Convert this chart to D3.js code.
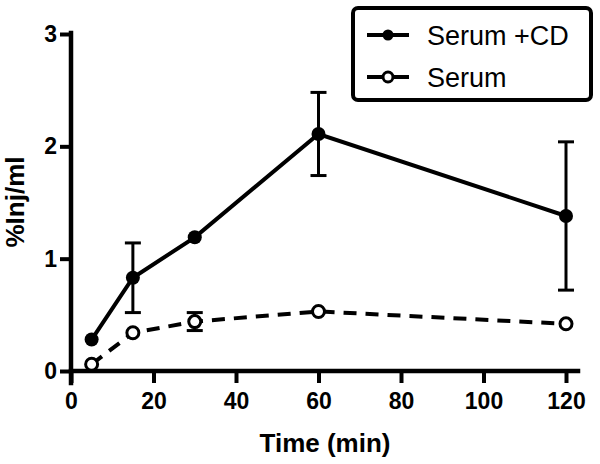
<!DOCTYPE html>
<html>
<head>
<meta charset="utf-8">
<script src="https://cdn.jsdelivr.net/npm/d3@7"></script>
<style>
  html, body { margin: 0; padding: 0; background: #fff; }
  svg { display: block; }
  text { font-family: "Liberation Sans", Arial, Helvetica, sans-serif; }
</style>
</head>
<body>
<svg id="chart" width="600" height="464"></svg>
<script>
// ---- data ----
const times = [5, 15, 30, 60, 120];
const serumCD = [0.28, 0.83, 1.19, 2.11, 1.38];
const serumCDErr = [0.0, 0.31, 0.0, 0.37, 0.66];
const serum = [0.06, 0.34, 0.44, 0.53, 0.42];
const serumErr = [0.0, 0.0, 0.08, 0.0, 0.0];
const xTicks = [0, 20, 40, 60, 80, 100, 120];
const yTicks = [0, 1, 2, 3];
const seriesNames = ["Serum +CD", "Serum"];

const svg = d3.select("#chart");
const x = d3.scaleLinear().domain([0, 120]).range([71, 566]);
const y = d3.scaleLinear().domain([0, 3]).range([371, 34]);

// axes
const xAxis = svg.append("g").attr("transform", "translate(0,371)")
  .call(d3.axisBottom(x).tickValues(xTicks).tickFormat(d3.format("d"))
    .tickSize(12).tickPadding(10).tickSizeOuter(0));
xAxis.select(".domain").attr("d", `M${x(0)},0H578`);
const yAxis = svg.append("g").attr("transform", "translate(71,0)")
  .call(d3.axisLeft(y).tickValues(yTicks).tickFormat(d3.format("d"))
    .tickSize(11).tickPadding(3).tickSizeOuter(0));
yAxis.select(".domain").attr("d", `M0,${y(0) + 12}V33`);

[xAxis, yAxis].forEach(a => {
  a.selectAll(".domain").attr("stroke", "#000").attr("stroke-width", 4.5).attr("stroke-linecap", "square");
  a.selectAll(".tick line").attr("stroke", "#000").attr("stroke-width", 4);
  a.selectAll(".tick text").attr("fill", "#000").attr("font-size", 23).attr("font-weight", "bold")
    .attr("font-family", "'Liberation Sans', Arial, sans-serif");
});

// axis titles
svg.append("text").attr("x", 325).attr("y", 452).attr("text-anchor", "middle")
  .attr("font-size", 26).attr("font-weight", "bold").text("Time (min)");
svg.append("text").attr("transform", "translate(24,202) rotate(-90)").attr("text-anchor", "middle")
  .attr("font-size", 26).attr("font-weight", "bold").text("%Inj/ml");

const line = d3.line().x(d => x(d[0])).y(d => y(d[1]));
const cap = 8;

function errorBars(vals, errs) {
  const g = svg.append("g").attr("stroke", "#000").attr("stroke-width", 3).attr("fill", "none");
  times.forEach((t, i) => {
    if (errs[i] <= 0) return;
    const cx = x(t), top = y(vals[i] + errs[i]), bot = y(vals[i] - errs[i]);
    g.append("line").attr("x1", cx).attr("x2", cx).attr("y1", top).attr("y2", bot);
    g.append("line").attr("x1", cx - cap).attr("x2", cx + cap).attr("y1", top).attr("y2", top);
    g.append("line").attr("x1", cx - cap).attr("x2", cx + cap).attr("y1", bot).attr("y2", bot);
  });
}

// Serum (dashed, open)
errorBars(serum, serumErr);
svg.append("path").datum(times.map((t, i) => [t, serum[i]]))
  .attr("d", line).attr("fill", "none").attr("stroke", "#000").attr("stroke-width", 4)
  .attr("stroke-dasharray", "13,9");
svg.append("g").selectAll("circle").data(times.map((t, i) => [t, serum[i]])).join("circle")
  .attr("cx", d => x(d[0])).attr("cy", d => y(d[1])).attr("r", 6)
  .attr("fill", "#fff").attr("stroke", "#000").attr("stroke-width", 3);

// Serum +CD (solid, filled)
errorBars(serumCD, serumCDErr);
svg.append("path").datum(times.map((t, i) => [t, serumCD[i]]))
  .attr("d", line).attr("fill", "none").attr("stroke", "#000").attr("stroke-width", 4);
svg.append("g").selectAll("circle").data(times.map((t, i) => [t, serumCD[i]])).join("circle")
  .attr("cx", d => x(d[0])).attr("cy", d => y(d[1])).attr("r", 7).attr("fill", "#000");

// legend
const lg = svg.append("g");
lg.append("rect").attr("x", 353).attr("y", 8).attr("width", 238).attr("height", 92)
  .attr("rx", 5).attr("fill", "#fff").attr("stroke", "#000").attr("stroke-width", 4);
const rows = [35, 77];
seriesNames.forEach((name, i) => {
  const yy = rows[i];
  lg.append("line").attr("x1", 367).attr("x2", 409).attr("y1", yy).attr("y2", yy)
    .attr("stroke", "#000").attr("stroke-width", 4);
  if (i === 0) {
    lg.append("circle").attr("cx", 388).attr("cy", yy).attr("r", 5.5).attr("fill", "#000");
  } else {
    lg.append("circle").attr("cx", 388).attr("cy", yy).attr("r", 5).attr("fill", "#fff")
      .attr("stroke", "#000").attr("stroke-width", 3);
  }
  lg.append("text").attr("x", 427).attr("y", yy + 10).attr("font-size", 27).text(name);
});
</script>
</body>
</html>
